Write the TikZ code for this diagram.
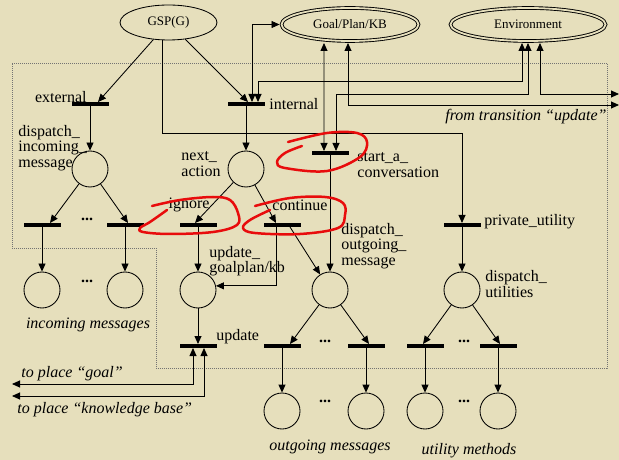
\documentclass[tikz,border=0pt]{standalone}
\usepackage{fontspec}
\setmainfont{Liberation Serif}
\usetikzlibrary{arrows.meta,shapes.geometric,calc}
\definecolor{paper}{RGB}{230,223,188}
\definecolor{marker}{RGB}{232,12,12}
\begin{document}
\begin{tikzpicture}[x=1bp,y=-1bp,
  line width=0.85bp,
  arw/.style={-{Triangle[length=8bp,width=7bp]}},
  barw/.style={{Triangle[length=8bp,width=7bp]}-{Triangle[length=8bp,width=7bp]}},
  place/.style={circle,draw,minimum size=36bp,inner sep=0},
  trans/.style={rectangle,fill=black,minimum width=37bp,minimum height=4bp,inner sep=0,outer sep=0},
  oval/.style={ellipse,draw,inner sep=0,font=\fontsize{13bp}{13bp}\selectfont},
  store/.style={oval,double=paper,double distance=1.8bp,line width=0.9bp,outer sep=2bp},
  lbl/.style={inner sep=0,align=left,font=\fontsize{16bp}{15.5bp}\selectfont},
  note/.style={inner sep=0,font=\fontsize{16bp}{16bp}\selectfont\itshape},
  ellip/.style={inner sep=0,font=\fontsize{16bp}{16bp}\selectfont\bfseries},
  frame/.style={draw=black!55,line width=0.5bp,dash pattern=on 1bp off 1bp},
  scribble/.style={draw=marker,line width=2.5bp,line cap=round,line join=round}
]
\useasboundingbox (0,0) rectangle (619,460);
\fill[paper] (0,0) rectangle (619,460);

% agent boundary
\draw[frame] (12,63) -- (607,63) -- (607,368) -- (156,368) -- (156,248) -- (12,248) -- cycle;

% external places
\node[oval,minimum width=97bp,minimum height=35bp] (gsp) at (168.5,22.5) {GSP(G)};
\node[store,minimum width=137bp,minimum height=33bp] (goal) at (350,24.5) {Goal/Plan/KB};
\node[store,minimum width=155bp,minimum height=33bp] (env) at (528,24.5) {Environment};

% transitions
\node[trans] (ext) at (90,104) {};
\node[trans] (int) at (246,104) {};
\node[trans] (start) at (330,153) {};
\node[trans] (inL) at (42,225) {};
\node[trans] (inR) at (125,225) {};
\node[trans] (ign) at (198,225) {};
\node[trans] (cont) at (282,225) {};
\node[trans] (priv) at (462,225) {};
\node[trans] (upd) at (198,346) {};
\node[trans] (outL) at (282,346) {};
\node[trans] (outR) at (366,346) {};
\node[trans] (utL) at (425,346) {};
\node[trans] (utR) at (498,346) {};

% places
\node[place] (dim) at (90,169) {};
\node[place] (na) at (246,169) {};
\node[place] (ugk) at (198,290) {};
\node[place] (dom) at (330,290) {};
\node[place] (du) at (462,290) {};
\node[place] (im1) at (42,290) {};
\node[place] (im2) at (125,290) {};
\node[place] (om1) at (282,411) {};
\node[place] (om2) at (366,411) {};
\node[place] (um1) at (425,411) {};
\node[place] (um2) at (498,411) {};

% bend points of the routed connectors
\coordinate (g1) at (162.5,133);
\coordinate (ea) at (258,81);
\coordinate (eb) at (336,94);
\coordinate (ec) at (619,94);
\coordinate (gd) at (619,105);
\coordinate (lg) at (12,384);
\coordinate (lk) at (12,396);

% connectors from GSP(G)
\draw[arw] (gsp) -- ([xshift=8bp]ext.north);
\draw[arw] (gsp) -- ([xshift=2bp]int.north);
\draw[arw] (gsp.south -| g1) -- (g1) -| (priv.north);

% links to goal/plan/kb and environment
\draw[barw] (goal.west) -| ([xshift=6bp]int.north);
\draw[barw] ([xshift=-6bp]env.south) |- (ea) -- (ea |- int.north);
\draw[barw] (env.south) |- (eb) -- (eb |- start.north);
\draw[barw] ([xshift=12bp]env.south) |- (ec);
\draw[barw] ([xshift=-26bp]goal.south) -- ([xshift=-6bp]start.north);
\draw[barw] ([xshift=-2bp]goal.south) |- (gd);

% inner net
\draw[arw] (ext) -- (dim);
\draw[arw] (int) -- (na);
\draw[arw] (start) -- (dom);
\draw[arw] (dim) -- ([xshift=8bp]inL.north);
\draw[arw] (dim) -- ([xshift=3bp]inR.north);
\draw[arw] (inL) -- (im1);
\draw[arw] (inR) -- (im2);
\draw[arw] (na) -- ([xshift=-3bp]ign.north);
\draw[arw] (na) -- ([xshift=-6bp]cont.north);
\draw[arw] (ign) -- (ugk);
\draw[arw] ([xshift=-6bp]cont.south) |- (ugk.13);
\draw[arw] ([xshift=8bp]cont.south) -- (dom);
\draw[arw] (ugk) -- (upd);
\draw[barw] ([xshift=-5bp]upd.south) |- (lg);
\draw[barw] ([xshift=6bp]upd.south) |- (lk);
\draw[arw] (priv) -- (du);
\draw[arw] (dom) -- ([xshift=8bp]outL.north);
\draw[arw] (dom) -- ([xshift=3bp]outR.north);
\draw[arw] (du) -- ([xshift=-2bp]utL.north);
\draw[arw] (du) -- ([xshift=2bp]utR.north);
\draw[arw] (outL) -- (om1);
\draw[arw] (outR) -- (om2);
\draw[arw] (utL) -- (um1);
\draw[arw] (utR) -- (um2);

% ellipses between repeated elements
\node[ellip] (d1) at (87,219) {...};
\node[ellip] (d2) at (87,281) {...};
\node[ellip] (d3) at (325,341) {...};
\node[ellip] (d4) at (325,401) {...};
\node[ellip] (d5) at (464,341) {...};
\node[ellip] (d6) at (464,401) {...};

% labels
\node[lbl,anchor=east] (lext) at (87,97) {external};
\node[lbl,anchor=west] (lint) at (269,104) {internal};
\node[lbl,anchor=west] (ldim) at (18,148) {dispatch\_\\incoming\_\\message};
\node[lbl,anchor=west] (lna) at (181,164) {next\_\\action};
\node[lbl,anchor=west] (lstart) at (357,165) {start\_a\_\\conversation};
\node[lbl] (lign) at (189,205) {ignore};
\node[lbl] (lcont) at (300,205) {continue};
\node[lbl,anchor=west] (lugk) at (209,261) {update\_\\goalplan/kb};
\node[lbl,anchor=west] (ldom) at (341,246) {dispatch\_\\outgoing\_\\message};
\node[lbl,anchor=west] (lpriv) at (484,222) {private\_utility};
\node[lbl,anchor=west] (ldu) at (485,284) {dispatch\_\\utilities};
\node[lbl,anchor=west] (lupd) at (216,337) {update};

% captions
\node[note,anchor=west] (cg) at (21,374) {to place “goal”};
\node[note,anchor=west] (ck) at (17,410) {to place “knowledge base”};
\node[note] (cin) at (88,325) {incoming messages};
\node[note] (cout) at (330,447) {outgoing messages};
\node[note] (cut) at (469,451) {utility methods};
\node[note,anchor=east] (cfr) at (607,117) {from transition “update”};

% hand-drawn highlights
\draw[scribble] plot[smooth,tension=0.6] coordinates {(288,142) (327,133) (357,133) (367,142) (360,157) (327,171) (285,168) (277,162) (285,153) (302,146)};
\draw[scribble] plot[smooth,tension=0.6] coordinates {(152,206) (180,200) (213,197) (230,200) (238,213) (237,225) (213,232) (170,234) (143,232) (140,228) (150,222) (167,210)};
\draw[scribble] plot[smooth,tension=0.6] coordinates {(255,206) (290,198) (325,197) (343,203) (345,215) (338,228) (300,234) (255,233) (243,228) (250,220) (270,210)};
\end{tikzpicture}
\end{document}
